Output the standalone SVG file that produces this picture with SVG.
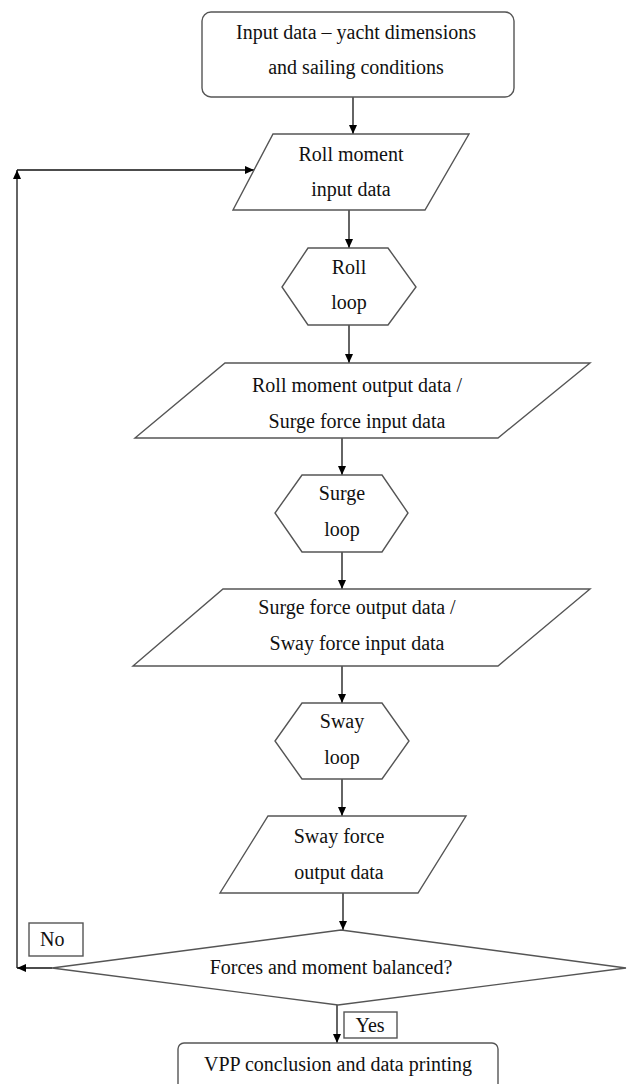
<svg xmlns="http://www.w3.org/2000/svg" width="627" height="1084" viewBox="0 0 627 1084">
<defs>
<marker id="arr" markerWidth="10" markerHeight="8" refX="9" refY="4" orient="auto" markerUnits="userSpaceOnUse">
<path d="M0,0 L9,4 L0,8 Z" fill="#000"/>
</marker>
<style>
.shape{fill:#fff;stroke:#555;stroke-width:1.4}
.conn{fill:none;stroke:#111;stroke-width:1.3;marker-end:url(#arr)}
.line{fill:none;stroke:#111;stroke-width:1.3}
.t{font-family:"Liberation Serif","Times New Roman",serif;font-size:20px;fill:#111;text-anchor:middle}
.tl{font-family:"Liberation Serif","Times New Roman",serif;font-size:20px;fill:#111}
</style>
</defs>
<rect width="627" height="1084" fill="#fff"/>
<g id="connectors">
<line class="conn" x1="353" y1="97" x2="353" y2="134"/>
<line class="conn" x1="349" y1="210" x2="349" y2="248"/>
<line class="conn" x1="349" y1="325" x2="349" y2="363"/>
<line class="conn" x1="342" y1="438" x2="342" y2="475"/>
<line class="conn" x1="342" y1="552" x2="342" y2="589"/>
<line class="conn" x1="342" y1="666" x2="342" y2="703"/>
<line class="conn" x1="342" y1="779" x2="342" y2="816"/>
<line class="conn" x1="343" y1="893" x2="343" y2="930"/>
<line class="conn" x1="337" y1="1005" x2="337" y2="1043"/>
<line class="conn" x1="52" y1="968" x2="17" y2="968"/>
<line class="conn" x1="17" y1="968" x2="17" y2="170"/>
<line class="conn" x1="17" y1="170" x2="254" y2="170"/>
</g>
<g id="n-input">
<rect class="shape" x="202" y="12" width="312" height="85" rx="9"/>
<text class="t" x="356" y="39">Input data – yacht dimensions</text>
<text class="t" x="356" y="74">and sailing conditions</text>
</g>
<g id="n-roll-in">
<polygon class="shape" points="273,134 469,134 425,210 233,210"/>
<text class="t" x="351" y="161">Roll moment</text>
<text class="t" x="351" y="196">input data</text>
</g>
<g id="n-roll-loop">
<polygon class="shape" points="308,248 388,248 416,287 388,325 308,325 282,287"/>
<text class="t" x="349" y="274">Roll</text>
<text class="t" x="349" y="309">loop</text>
</g>
<g id="n-roll-out">
<polygon class="shape" points="225,363 590,363 498,438 135,438"/>
<text class="t" x="357" y="392">Roll moment output data /</text>
<text class="t" x="357" y="428">Surge force input data</text>
</g>
<g id="n-surge-loop">
<polygon class="shape" points="302,475 382,475 408,513 382,552 302,552 275,513"/>
<text class="t" x="342" y="500">Surge</text>
<text class="t" x="342" y="536">loop</text>
</g>
<g id="n-surge-out">
<polygon class="shape" points="223,589 590,589 498,666 133,666"/>
<text class="t" x="357" y="614">Surge force output data /</text>
<text class="t" x="357" y="650">Sway force input data</text>
</g>
<g id="n-sway-loop">
<polygon class="shape" points="302,703 382,703 409,741 382,779 302,779 275,741"/>
<text class="t" x="342" y="728">Sway</text>
<text class="t" x="342" y="764">loop</text>
</g>
<g id="n-sway-out">
<polygon class="shape" points="268,816 466,816 418,893 220,893"/>
<text class="t" x="339" y="843">Sway force</text>
<text class="t" x="339" y="879">output data</text>
</g>
<g id="n-decision">
<polygon class="shape" points="341,930 626,968 338,1005 52,968"/>
<text class="t" x="331" y="974">Forces and moment balanced?</text>
</g>
<g id="l-no">
<rect class="shape" x="29" y="923" width="54" height="33"/>
<text class="tl" x="40" y="946">No</text>
</g>
<g id="l-yes">
<rect class="shape" x="344" y="1012" width="53" height="26"/>
<text class="t" x="370" y="1032">Yes</text>
</g>
<g id="n-vpp">
<rect class="shape" x="178" y="1043" width="320" height="60" rx="6"/>
<text class="t" x="338" y="1071">VPP conclusion and data printing</text>
</g>
</svg>
